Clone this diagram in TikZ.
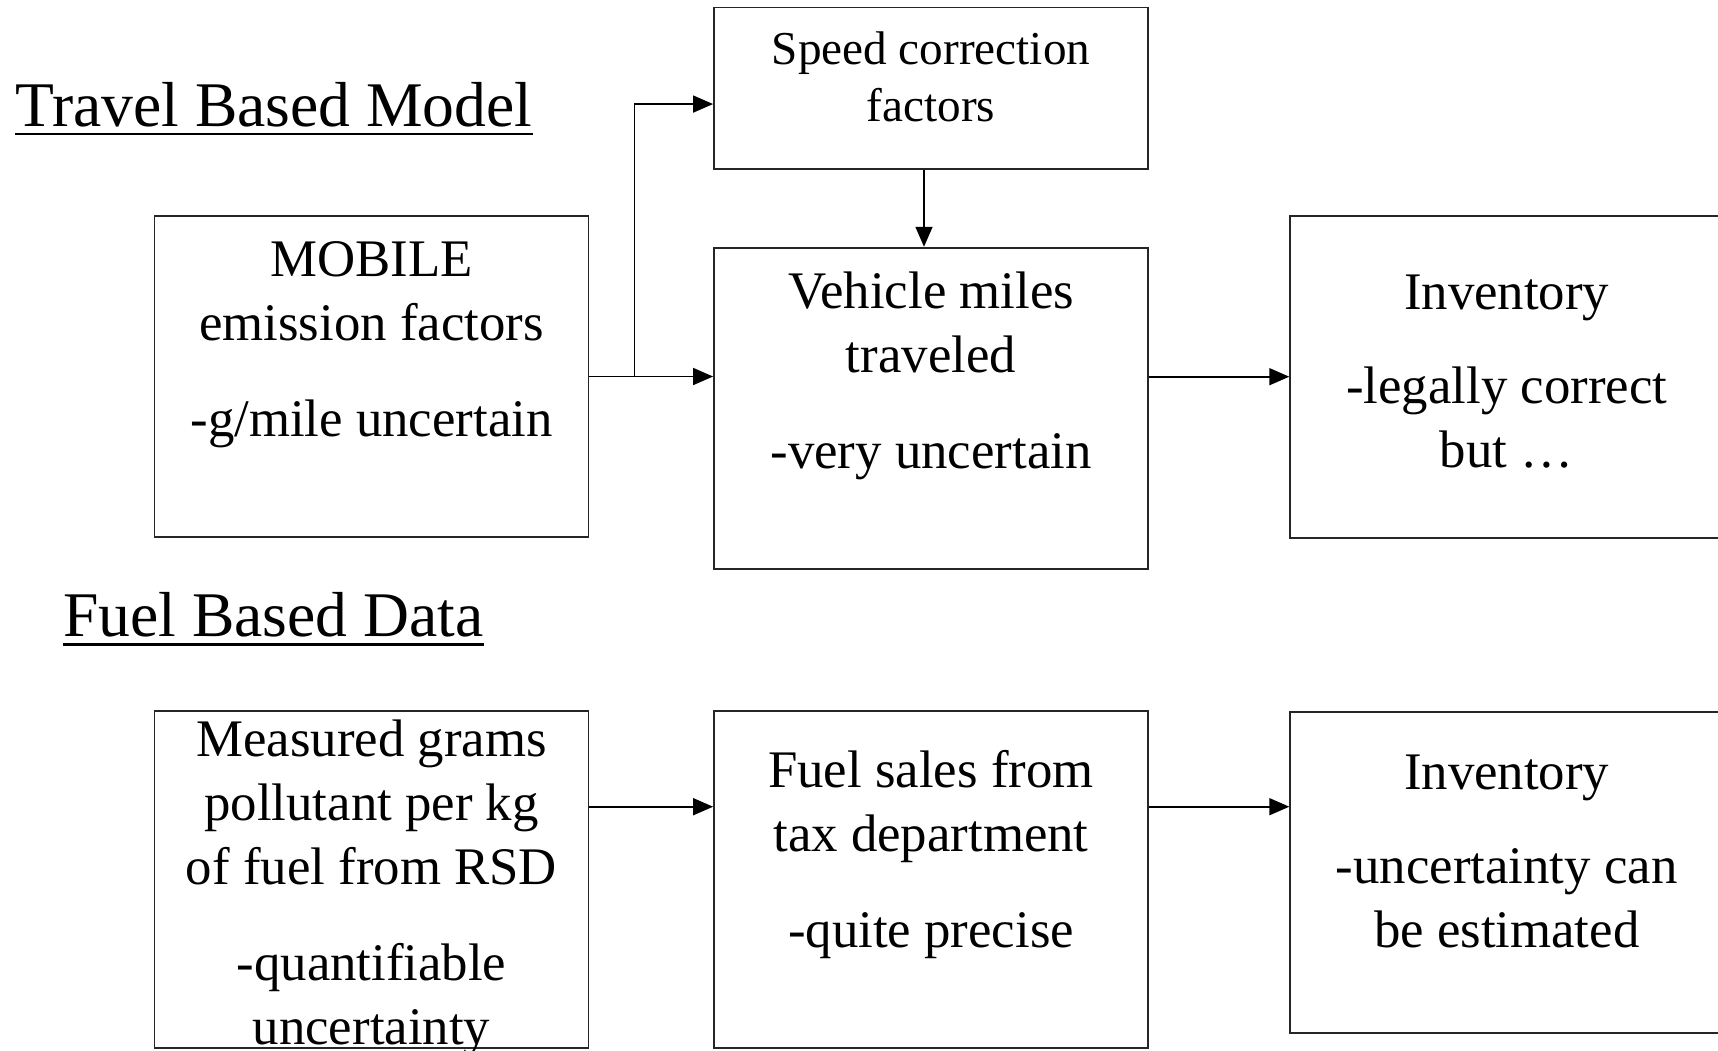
\documentclass[tikz,border=0pt]{standalone}
\usepackage{fontspec}
\setmainfont{Liberation Serif}
\usetikzlibrary{arrows.meta,calc}

\begin{document}
\begin{tikzpicture}[
  x=0.5pt, y=-0.5pt,
  box/.style={draw=black!85, line width=0.9pt, minimum width=217pt, inner sep=0pt},
  % multi-line texts are placed by the baseline of their last line
  txt/.style={anchor=base, align=center, inner sep=0pt,
              font=\fontsize{26.4}{32}\selectfont},
  smalltxt/.style={anchor=base, align=center, inner sep=0pt,
              font=\fontsize{23.6}{28.85}\selectfont},
  title/.style={anchor=base west, inner sep=0pt, font=\fontsize{31.8}{38}\selectfont},
  uline/.style={line width=1.35pt},
  arr/.style={line width=0.8pt, -{Triangle[length=10pt,width=8.5pt]}},
]
\useasboundingbox (0,0) rectangle (1718,1050);
\fill[white] (0,0) rectangle (1718,1050);
\clip (0,0) rectangle (1718,1050);

% section titles
\node[title] (travel) at (15,126.7) {Travel Based Model};
\draw[uline] ([yshift=-3.65pt]travel.base west) -- ([yshift=-3.65pt]travel.base east);
\node[title] (fuelbased) at (62.7,636.7) {Fuel Based Data};
\draw[uline] ([yshift=-4pt]fuelbased.base west) -- ([yshift=-4pt]fuelbased.base east);

% travel based model boxes
\node[box, minimum height=80.75pt] (speed) at (931,88.25) {};
\node[box, minimum height=160.5pt] (mobile) at (371.5,376.5) {};
\node[box, minimum height=160.5pt] (vmt) at (931,408.15) {};
\node[box, minimum height=161pt] (inv1) at (1507.2,376.7) {};

\node[smalltxt] (speed-t) at (931,121.7) {Speed correction\\factors};
\node[txt] (mobile-t) at (371.5,436.7) {MOBILE\\emission factors\\[16pt]-g/mile uncertain};
\node[txt] (vmt-t) at (931,468.3) {Vehicle miles\\traveled\\[16pt]-very uncertain};
\node[txt] (inv1-t) at (1506.7,467.7) {Inventory\\[15.2pt]-legally correct\\but \dots};

% fuel based data boxes
\node[box, minimum height=168.5pt] (meas) at (371.5,879.6) {};
\node[box, minimum height=168.5pt] (fuel) at (931,879.6) {};
\node[box, minimum height=160.5pt] (inv2) at (1507.2,872.5) {};

\node[txt] (meas-t) at (371.5,1044) {Measured grams\\pollutant per kg\\of fuel from RSD\\[16pt]-quantifiable\\uncertainty};
\node[txt] (fuel-t) at (931,947.3) {Fuel sales from\\tax department\\[16pt]-quite precise};
\node[txt] (inv2-t) at (1506.7,947.7) {Inventory\\[15.2pt]-uncertainty can\\be estimated};

% connectors, travel based model
\coordinate (split) at ($(mobile.east)!0.366!(mobile.east -| vmt.west)$);
\draw[arr] (mobile.east) -- (mobile.east -| vmt.west);
\draw[arr] (split) |- ([yshift=-7.9pt]speed.west);
\draw[arr] ([xshift=-3.5pt]speed.south) -- ([xshift=-3.5pt]speed.south |- vmt.north);
\draw[arr] (inv1.west -| vmt.east) -- (inv1.west);

% connectors, fuel based data
\draw[arr] ([yshift=-48.25pt]meas.north east) -- ([yshift=-48.25pt]meas.north east -| fuel.west);
\draw[arr] ([yshift=-48.25pt]fuel.north east) -- ([yshift=-48.25pt]fuel.north east -| inv2.west);
\end{tikzpicture}
\end{document}
